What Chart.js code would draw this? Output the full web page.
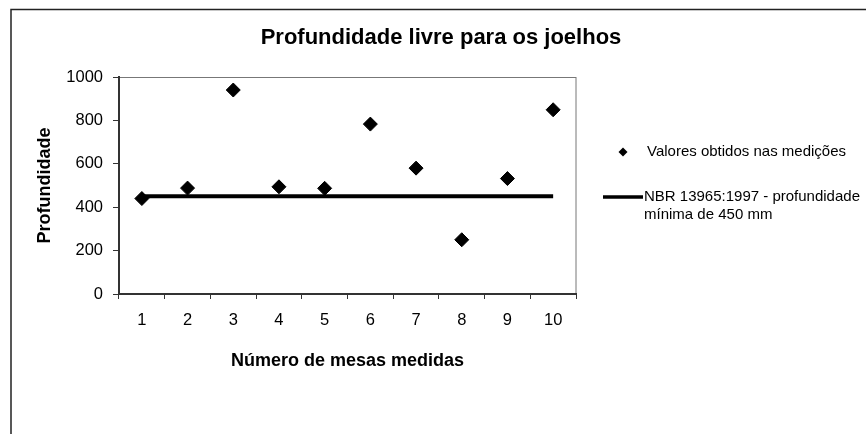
<!DOCTYPE html>
<html>
<head>
<meta charset="utf-8">
<script src="https://cdn.jsdelivr.net/npm/chart.js@4/dist/chart.umd.min.js"></script>
<style>
  body { margin: 0; background: #fff; }
  #wrap { width: 866px; height: 434px; }
</style>
</head>
<body>
<div id="wrap"><canvas id="myChart" width="866" height="434"></canvas></div>
<script>
// chart data
const mesas = ['1', '2', '3', '4', '5', '6', '7', '8', '9', '10'];
const valoresMedidos = [440, 488, 940, 494, 487, 783, 580, 250, 532, 849];
const normaMinima = [450, 450, 450, 450, 450, 450, 450, 450, 450, 450];
const yTicks = [0, 200, 400, 600, 800, 1000];

const chartTitle = 'Profundidade livre para os joelhos';
const legendPontos = ['Valores obtidos nas medições'];
const legendLinha = ['NBR 13965:1997 - profundidade', 'mínima de 450 mm'];

const FONT = "'Liberation Sans', Arial, sans-serif";

// frame, plot border, title and legend (Excel style)
const excelDecor = {
    id: 'excelDecor',
    beforeDraw(chart) {
        const ctx = chart.ctx;
        const a = chart.chartArea;
        ctx.save();
        ctx.fillStyle = '#fff';
        ctx.fillRect(0, 0, chart.width, chart.height);
        // outer frame
        ctx.strokeStyle = '#222';
        ctx.lineWidth = 1.5;
        ctx.strokeRect(11, 9.5, 900, 500);
        // plot area border
        ctx.strokeStyle = '#777';
        ctx.lineWidth = 1;
        ctx.strokeRect(a.left, Math.round(a.top) + 0.5, a.right - a.left, a.bottom - a.top);
        ctx.restore();
    },
    afterDraw(chart) {
        const ctx = chart.ctx;
        ctx.save();
        ctx.fillStyle = '#000';
        ctx.textBaseline = 'middle';
        ctx.textAlign = 'center';
        ctx.font = 'bold 22px ' + FONT;
        ctx.fillText(chartTitle, 441, 38);

        // legend: diamond
        ctx.textAlign = 'left';
        ctx.font = '15px ' + FONT;
        ctx.beginPath();
        ctx.moveTo(623, 147.5);
        ctx.lineTo(627.5, 152);
        ctx.lineTo(623, 156.5);
        ctx.lineTo(618.5, 152);
        ctx.closePath();
        ctx.fill();
        ctx.fillText(legendPontos[0], 647, 152);

        // legend: line
        ctx.strokeStyle = '#000';
        ctx.lineWidth = 3.5;
        ctx.beginPath();
        ctx.moveTo(603, 197);
        ctx.lineTo(643, 197);
        ctx.stroke();
        legendLinha.forEach((t, i) => ctx.fillText(t, 644, 197 + i * 18));
        ctx.restore();
    }
};

window.addEventListener('load', () => {
    const ctx = document.getElementById('myChart').getContext('2d');
    new Chart(ctx, {
        type: 'line',
        data: {
            labels: mesas,
            datasets: [{
                label: legendPontos[0],
                data: valoresMedidos,
                showLine: false,
                pointStyle: 'rectRot',
                pointRadius: 7,
                pointBorderWidth: 1,
                pointBackgroundColor: '#000',
                pointBorderColor: '#000',
                order: 1
            }, {
                label: legendLinha.join(' '),
                data: normaMinima,
                borderColor: '#000',
                borderWidth: 4,
                pointRadius: 0,
                fill: false,
                order: 2
            }]
        },
        options: {
            responsive: false,
            animation: false,
            layout: { padding: { left: 0, top: 77, right: 290, bottom: 0 } },
            plugins: {
                legend: { display: false },
                title: { display: false },
                tooltip: { enabled: false }
            },
            scales: {
                x: {
                    type: 'category',
                    offset: true,
                    afterFit(scale) { scale.height = 140; },
                    grid: {
                        offset: true,
                        drawOnChartArea: false,
                        tickLength: 5,
                        color: '#333'
                    },
                    border: { color: '#333', width: 2 },
                    ticks: {
                        color: '#000',
                        padding: 12,
                        font: { family: FONT, size: 16.5 }
                    },
                    title: {
                        display: true,
                        text: 'Número de mesas medidas',
                        color: '#000',
                        padding: { top: 0, bottom: 62 },
                        font: { family: FONT, size: 18, weight: 'bold' }
                    }
                },
                y: {
                    min: 0,
                    max: 1000,
                    afterFit(scale) { scale.width = 119; },
                    afterBuildTicks(scale) { scale.ticks = yTicks.map(v => ({ value: v })); },
                    grid: {
                        drawOnChartArea: false,
                        tickLength: 6,
                        color: '#333'
                    },
                    border: { color: '#333', width: 2 },
                    ticks: {
                        color: '#000',
                        padding: 10,
                        callback: v => String(v),
                        font: { family: FONT, size: 16.5 }
                    },
                    title: {
                        display: true,
                        text: 'Profundidade',
                        color: '#000',
                        padding: { top: 34, bottom: 0 },
                        font: { family: FONT, size: 18, weight: 'bold' }
                    }
                }
            }
        },
        plugins: [excelDecor]
    });
});
</script>
</body>
</html>
